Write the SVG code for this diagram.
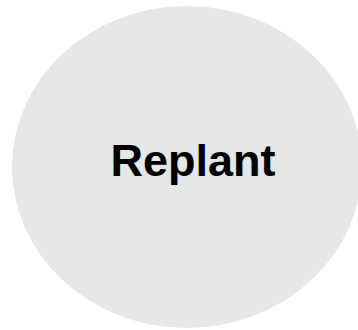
<svg xmlns="http://www.w3.org/2000/svg" width="358" height="330" viewBox="0 0 358 330">
<style>
.node{fill:#e6e7e8;stroke:none}
.lbl{font-family:"Liberation Sans",Arial,sans-serif;font-weight:bold;font-size:45px;fill:#000;text-anchor:middle}
</style>
<rect width="358" height="330" fill="#fff"/>
<g id="replant">
<ellipse class="node" cx="187" cy="167" rx="175" ry="161"/>
<text class="lbl" x="193" y="176">Replant</text>
</g>
<g id="connectors"/>
</svg>
